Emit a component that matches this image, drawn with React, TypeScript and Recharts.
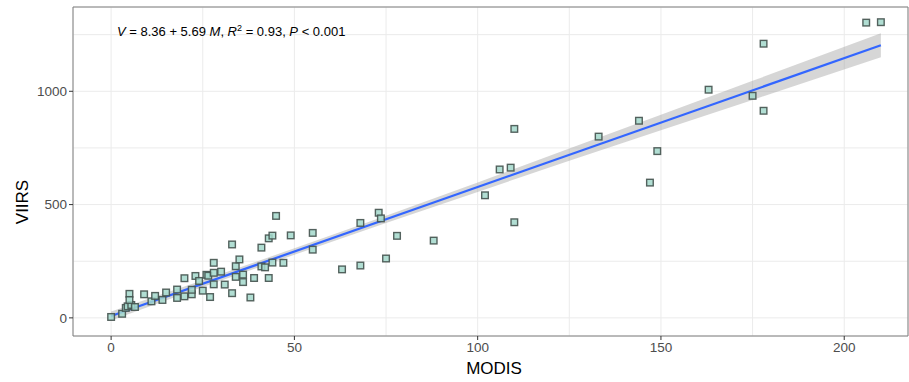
import {
  Area,
  CartesianGrid,
  ComposedChart,
  Line,
  ReferenceArea,
  Scatter,
  XAxis,
  YAxis,
} from "recharts";

// MODIS (x) and VIIRS (y) values
const modis = [
  0, 3, 4, 4.5, 5.5, 6.5, 5, 5, 9, 11, 12, 14, 15, 18, 18, 20, 20, 22, 22, 23,
  24, 25, 26, 26.5, 27, 28, 28, 28, 30, 31, 33, 33, 34, 35, 34, 36, 36, 38, 39,
  41, 41, 42, 43, 44, 43, 44, 45, 47, 49, 55, 55, 63, 68, 68, 73, 73.6, 75, 78,
  88, 102, 106, 109, 110, 110, 133, 144, 147, 149, 163, 175, 178, 178, 206, 210,
];
const viirs = [
  4, 18, 44, 51, 57, 48, 106, 79, 104, 73, 97, 79, 112, 125, 88, 175, 95, 104,
  124, 185, 163, 120, 190, 186, 92, 243, 199, 148, 204, 147, 324, 109, 228, 258,
  181, 191, 158, 90, 176, 310, 227, 223, 351, 363, 176, 244, 450, 243, 364, 375,
  301, 214, 419, 231, 464, 439, 262, 362, 341, 541, 655, 663, 834, 422, 800,
  870, 597, 736, 1007, 980, 1210, 914, 1303, 1305,
];

// fitted line V = 8.36 + 5.69 M and its confidence band
const fitX = [0, 210];
const fitY = [8.36, 1203.3];
const bandX = [0, 25, 50, 75, 100, 125, 150, 175, 210];
const bandLo = [-12, 136, 279, 419, 556, 693, 828, 962, 1150];
const bandHi = [28, 166, 307, 451, 598, 747, 896, 1046, 1256];

const xTicks = [0, 50, 100, 150, 200];
const yTicks = [0, 500, 1000];
const xGrid = [0, 25, 50, 75, 100, 125, 150, 175, 200];
const yGrid = [0, 250, 500, 750, 1000, 1250];
const X_DOMAIN: [number, number] = [-10.4, 217.4];
const Y_DOMAIN: [number, number] = [-80, 1372];

const points = modis.map((m, i) => ({ m, v: viirs[i] }));
const fit = fitX.map((m, i) => ({ m, v: fitY[i] }));
const band = bandX.map((m, i) => ({ m, band: [bandLo[i], bandHi[i]] }));

const FONT = "'Liberation Sans', Arial, Helvetica, sans-serif";

function SquareDot(props: any) {
  const { cx, cy } = props;
  if (cx == null || cy == null) return null;
  return (
    <rect
      x={cx - 3.3}
      y={cy - 3.3}
      width={6.6}
      height={6.6}
      fill="#a3d8cb"
      fillOpacity={0.85}
      stroke="#44524e"
      strokeOpacity={0.9}
      strokeWidth={1.4}
    />
  );
}

export default function App() {
  const tick = { fill: "#4d4d4d", fontSize: 13.5, fontFamily: FONT };
  return (
    <div style={{ position: "relative", width: 909, height: 382, background: "#fff" }}>
      <style>{"body{margin:0}"}</style>
      <ComposedChart
        width={909}
        height={382}
        margin={{ top: 7, right: 1, left: 0, bottom: 0 }}
        style={{ fontFamily: FONT }}
      >
        <XAxis
          xAxisId="g"
          type="number"
          dataKey="m"
          domain={X_DOMAIN}
          ticks={xGrid}
          allowDataOverflow
          hide
        />
        <YAxis
          yAxisId="g"
          type="number"
          domain={Y_DOMAIN}
          ticks={yGrid}
          allowDataOverflow
          hide
        />
        <CartesianGrid xAxisId="g" yAxisId="g" stroke="#ebebeb" strokeWidth={1} />
        <XAxis
          type="number"
          dataKey="m"
          domain={X_DOMAIN}
          ticks={xTicks}
          allowDataOverflow
          height={46}
          tick={tick}
          tickSize={4}
          tickMargin={2}
          tickLine={{ stroke: "#333" }}
          axisLine={false}
        />
        <YAxis
          type="number"
          dataKey="v"
          domain={Y_DOMAIN}
          ticks={yTicks}
          allowDataOverflow
          width={73}
          tick={tick}
          tickSize={4}
          tickMargin={2}
          tickLine={{ stroke: "#333" }}
          axisLine={false}
        />
        <Area
          data={band}
          dataKey="band"
          type="linear"
          stroke="none"
          fill="#999999"
          fillOpacity={0.4}
          isAnimationActive={false}
        />
        <Line
          data={fit}
          dataKey="v"
          type="linear"
          stroke="#3366FF"
          strokeWidth={2.2}
          dot={false}
          isAnimationActive={false}
        />
        <Scatter data={points} dataKey="v" shape={SquareDot} isAnimationActive={false} />
        <ReferenceArea
          x1={X_DOMAIN[0]}
          x2={X_DOMAIN[1]}
          y1={Y_DOMAIN[0]}
          y2={Y_DOMAIN[1]}
          fill="none"
          stroke="#7f7f7f"
          strokeWidth={1}
          ifOverflow="visible"
        />
      </ComposedChart>
      <svg
        width={909}
        height={382}
        style={{ position: "absolute", left: 0, top: 0, pointerEvents: "none" }}
      >
        <text x={117} y={36} fontSize={13} fill="#000" fontFamily={FONT}>
          <tspan fontStyle="italic">V</tspan>
          <tspan> = 8.36 + 5.69 </tspan>
          <tspan fontStyle="italic">M</tspan>
          <tspan>, </tspan>
          <tspan fontStyle="italic">R</tspan>
          <tspan fontSize={9} dy={-5}>2</tspan>
          <tspan dy={5}> = 0.93, </tspan>
          <tspan fontStyle="italic">P</tspan>
          <tspan> &lt; 0.001</tspan>
        </text>
        <text
          x={22}
          y={202}
          transform="rotate(-90 22 202)"
          textAnchor="middle"
          dominantBaseline="central"
          fontSize={17}
          fill="#000"
          fontFamily={FONT}
        >
          VIIRS
        </text>
        <text x={494} y={374} textAnchor="middle" fontSize={17} fill="#000" fontFamily={FONT}>
          MODIS
        </text>
      </svg>
    </div>
  );
}
